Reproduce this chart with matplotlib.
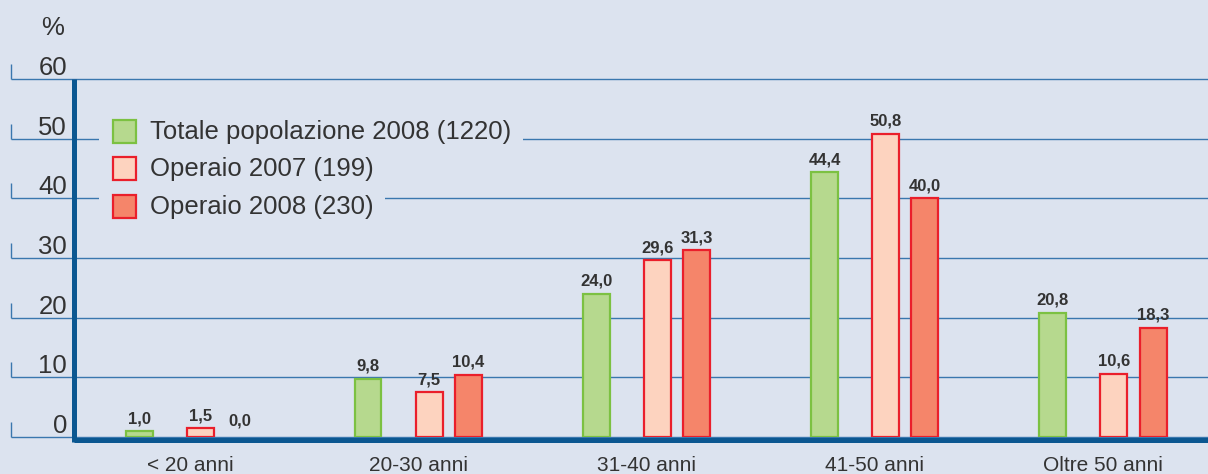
import numpy as np
import matplotlib
matplotlib.use("Agg")
import matplotlib.pyplot as plt
import matplotlib.transforms as mtransforms
from matplotlib.patches import Rectangle

categories = ["< 20 anni", "20-30 anni", "31-40 anni", "41-50 anni", "Oltre 50 anni"]
totale_2008 = [1.0, 9.8, 24.0, 44.4, 20.8]
operaio_2007 = [1.5, 7.5, 29.6, 50.8, 10.6]
operaio_2008 = [0.0, 10.4, 31.3, 40.0, 18.3]
series_labels = ["Totale popolazione 2008 (1220)", "Operaio 2007 (199)", "Operaio 2008 (230)"]
y_ticks = [0, 10, 20, 30, 40, 50, 60]

W, H = 1208, 474
BG = "#dce3ef"
GRID = "#3a77ae"
SPINE = "#0b5791"
TEXT = "#333333"
FONT = ["Liberation Sans", "DejaVu Sans"]
FONT_NARROW = ["Liberation Sans Narrow", "Liberation Sans", "DejaVu Sans"]

styles = [
    dict(face="#b6d98e", edge="#7cc142", offset=-0.22),
    dict(face="#fdd3bf", edge="#ea1f2b", offset=0.048),
    dict(face="#f5856a", edge="#ea1f2b", offset=0.22),
]

fig = plt.figure(figsize=(W / 100, H / 100), dpi=100, facecolor=BG)
# pixel coords measured from the top-left corner
px = mtransforms.Affine2D().scale(1 / W, -1 / H).translate(0, 1) + fig.transFigure

ax = fig.add_axes([11 / W, 37 / H, 1197 / W, 358 / H])
ax.set_xlim(-0.784, 4.46)
ax.set_ylim(0, 60)
ax.axis("off")

x = np.arange(len(categories))
spine_x = -0.506

# grid lines with little ticks on the left
ax.hlines(y_ticks, -0.784, 4.46, color=GRID, lw=1.0, zorder=1, clip_on=False)
ax.vlines([-0.782] * len(y_ticks), y_ticks, [v + 2.5 for v in y_ticks],
          color=GRID, lw=1.0, zorder=1, clip_on=False)
for v in y_ticks:
    ax.annotate(str(v), xy=(-0.784 + 56 / 228.26, v), xytext=(0, 4),
                textcoords="offset pixels", ha="right", va="baseline",
                fontsize=18.5, color=TEXT, family=FONT)
ax.annotate("%", xy=(-0.784 + 56 / 228.26, 60), xytext=(-3, 44),
            textcoords="offset pixels", ha="right", va="baseline",
            fontsize=18.5, color=TEXT, family=FONT)

# bars + value labels
for vals, st in zip([totale_2008, operaio_2007, operaio_2008], styles):
    ax.bar(x + st["offset"], vals, width=0.118, color=st["face"],
           edgecolor=st["edge"], linewidth=[1.6 if v > 0 else 0 for v in vals],
           zorder=3)
    for xi, v in zip(x, vals):
        ax.annotate(f"{v:.1f}".replace(".", ","), xy=(xi + st["offset"], v),
                    xytext=(0, 8 if v > 0 else 12), textcoords="offset pixels",
                    ha="center", va="baseline", fontsize=12, fontweight="bold",
                    color=TEXT, family=FONT_NARROW)

# thick axis lines
ax.vlines(spine_x, -0.84, 60, color=SPINE, lw=3.6, zorder=5, clip_on=False)
ax.hlines(-0.42, spine_x, 4.46, color=SPINE, lw=3.6, zorder=5, clip_on=False)

for xi, c in zip(x, categories):
    ax.annotate(c, xy=(xi, 0), xytext=(0, -34), textcoords="offset pixels",
                ha="center", va="baseline", fontsize=15, color=TEXT, family=FONT)

# legend, drawn over the grid lines
for i, (lab, st) in enumerate(zip(series_labels, styles)):
    top = 119 + 37.3 * i
    ax.add_patch(Rectangle((99, top - 2), 52, 29, transform=px, facecolor=BG,
                           edgecolor="none", zorder=6, clip_on=False))
    ax.add_patch(Rectangle((113, top + 1), 23, 23, transform=px, facecolor=st["face"],
                           edgecolor=st["edge"], lw=1.6, zorder=7, clip_on=False))
    ax.text(150, top + 20, lab, transform=px, ha="left", va="baseline",
            fontsize=18.5, color=TEXT, family=FONT, zorder=7,
            bbox=dict(boxstyle="square,pad=0.45", facecolor=BG, edgecolor="none"))

fig.savefig("out.png", dpi=100, facecolor=BG)
